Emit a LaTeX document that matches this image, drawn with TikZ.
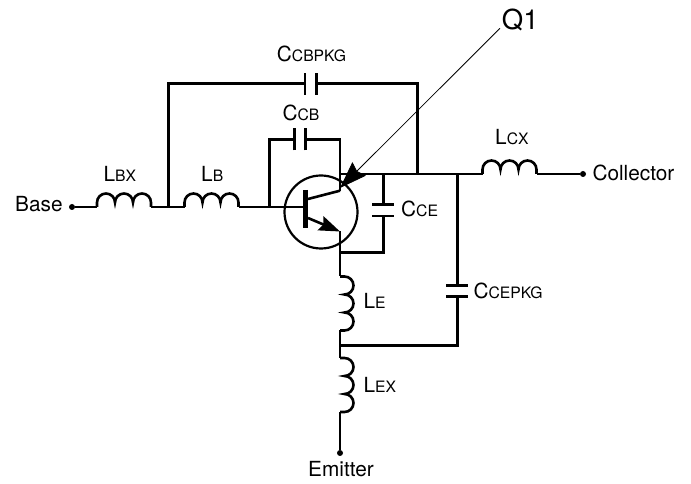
\documentclass[tikz,border=0pt]{standalone}
\usepackage{fontspec}
\setmainfont{TeX Gyre Heros}
\usetikzlibrary{arrows.meta}
\newcommand{\sublabel}[2]{#1{\fontsize{15.7}{18}\selectfont #2}}
\tikzset{
  wire/.style={line width=2.6pt,line join=miter},
  plain/.style={anchor=base west,inner sep=0pt,font=\fontsize{20.8}{24}\selectfont},
  dot/.style={circle,fill=black,inner sep=0pt,minimum size=6pt},
  coil/.pic={
    \draw[wire] (0,0) -- (0,4.5) arc[start angle=180,end angle=0,radius=9pt]
      -- (18,4.5) arc[start angle=180,end angle=0,radius=9pt]
      -- (36,4.5) arc[start angle=180,end angle=0,radius=9pt] -- (54,0);
    \coordinate (-a) at (0,0);
    \coordinate (-b) at (54,0);
  },
  plates/.pic={
    \draw[wire] (-5.7,-11) -- (-5.7,11);
    \draw[wire] (5.7,-11) -- (5.7,11);
    \coordinate (-a) at (-5.7,0);
    \coordinate (-b) at (5.7,0);
  }
}
\begin{document}
\begin{tikzpicture}[x=1pt,y=1pt]
  \useasboundingbox (0,0) rectangle (691,484);
  % terminals
  \node[dot] (base) at (72,277) {};
  \node[dot] (coll) at (583,310) {};
  \node[dot] (emit) at (340,31) {};
  % junctions
  \coordinate (jlb) at (168.3,277);
  \coordinate (jcb) at (269.3,277);
  \coordinate (jb) at (303,277);
  \coordinate (cend) at (340,293.3);
  \coordinate (eend) at (340,252.5);
  \coordinate (jc) at (340,310);
  \coordinate (jcpk) at (417.5,310);
  \coordinate (jcce) at (383.3,310);
  \coordinate (jcep) at (457.3,310);
  \coordinate (jece) at (340,231.3);
  \coordinate (jmid) at (340,138.7);
  % parts
  \pic (lbx) at (97,277) {coil};
  \pic (lb) at (184.5,277) {coil};
  \pic (lcx) at (482.5,310) {coil};
  \pic[rotate=-90] (le) at (340,207.5) {coil};
  \pic[rotate=-90] (lex) at (340,126) {coil};
  \pic (ccb) at (300,344.7) {plates};
  \pic (cpk) at (310.8,400.3) {plates};
  \pic[rotate=-90] (cce) at (383.3,273.7) {plates};
  \pic[rotate=-90] (cep) at (457.3,193) {plates};
  % transistor
  \draw[line width=2.2pt] (321,272) circle (36.5);
  \draw[line width=5pt] (305,294) -- (305,256);
  \draw[wire] (308,285) -- (cend);
  \draw[wire,-{Stealth[length=21pt,width=15pt,inset=3pt]}] (308,266) -- (eend);
  % wires
  \draw[wire] (base) -- (lbx-a);
  \draw[wire] (lbx-b) -- (lb-a);
  \draw[wire] (lb-b) -- (jb);
  \draw[wire] (jlb) |- (cpk-a);
  \draw[wire] (cpk-b) -| (jcpk);
  \draw[wire] (jcb) |- (ccb-a);
  \draw[wire] (ccb-b) -| (cend);
  \draw[wire] (jc) -- (lcx-a);
  \draw[wire] (lcx-b) -- (coll);
  \draw[wire] (jcce) -- (cce-a);
  \draw[wire] (cce-b) |- (jece);
  \draw[wire] (jcep) -- (cep-a);
  \draw[wire] (cep-b) |- (jmid);
  \draw[wire] (eend) -- (le-a);
  \draw[wire] (le-b) -- (lex-a);
  \draw[wire] (lex-b) -- (emit);
  % labels
  \node[plain] (lbase) at (15,272.3) {Base};
  \node[plain] (lcoll) at (592.3,303.3) {Collector};
  \node[plain] (lemit) at (308,7) {Emitter};
  \node[plain,font=\fontsize{27.5}{30}\selectfont] (lq) at (501.7,454.7) {Q1};
  \node[plain] (tlbx) at (103.3,302) {\sublabel{L}{BX}};
  \node[plain] (tlb) at (201,302) {\sublabel{L}{B}};
  \node[plain] (tlcx) at (495,339) {\sublabel{L}{CX}};
  \node[plain] (tle) at (363.3,175) {\sublabel{L}{E}};
  \node[plain] (tlex) at (363.3,91) {\sublabel{L}{EX}};
  \node[plain] (tccb) at (282.3,363) {\sublabel{C}{CB}};
  \node[plain] (tcpk) at (276.7,422) {\sublabel{C}{CBPKG}};
  \node[plain] (tcce) at (401,267.3) {\sublabel{C}{CE}};
  \node[plain] (tcep) at (473.3,185) {\sublabel{C}{CEPKG}};
  % pointer
  \coordinate (qend) at (340,296);
  \draw[line width=0.8pt,-{Stealth[length=27pt,width=19pt,inset=3pt]}] (500,455.7) -- (qend);
\end{tikzpicture}
\end{document}
